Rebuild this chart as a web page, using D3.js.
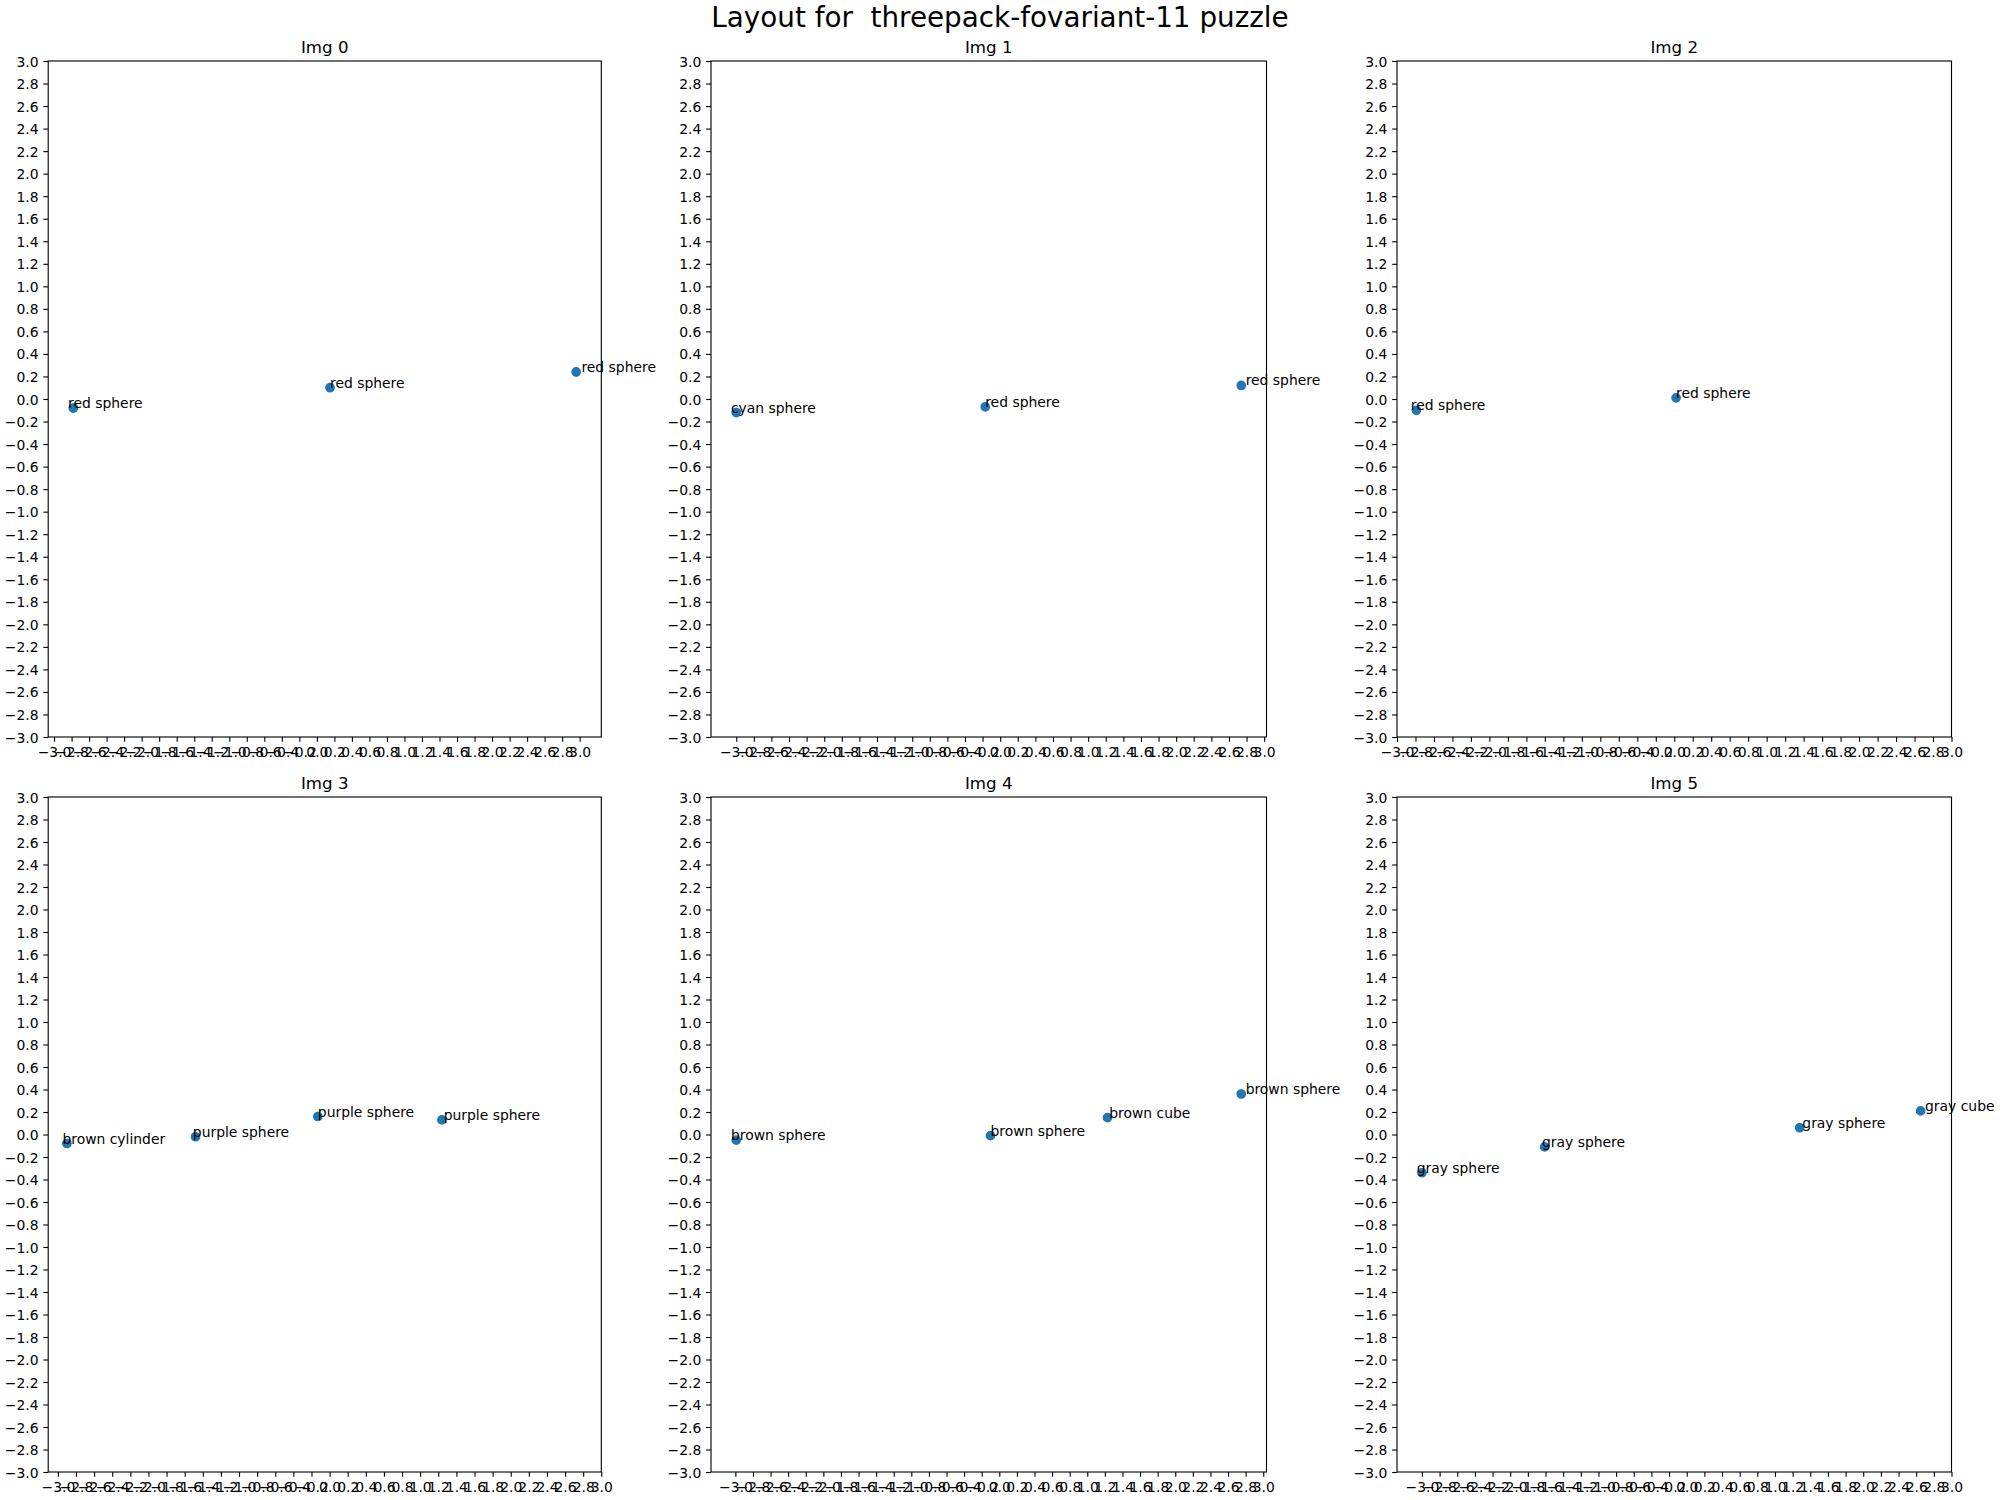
<!DOCTYPE html>
<html>
<head>
<meta charset="utf-8">
<script src="https://cdn.jsdelivr.net/npm/d3@7"></script>
<style>
  body { margin: 0; background: #ffffff; }
  svg { display: block; }
</style>
</head>
<body>
<svg id="chart" width="2000" height="1500"></svg>
<script>
// ---------------- DATA ----------------
const figTitle = "Layout for  threepack-fovariant-11 puzzle";
const panelTitles = ["Img 0", "Img 1", "Img 2", "Img 3", "Img 4", "Img 5"];

const img0Labels = ["red sphere", "red sphere", "red sphere"];
const img0X = [-2.78, 0.15, 2.96];
const img0Y = [-0.08, 0.10, 0.24];
const img0LabelX = [-2.84, 0.15, 3.02];

const img1Labels = ["cyan sphere", "red sphere", "red sphere"];
const img1X = [-3.00, -0.17, 2.74];
const img1Y = [-0.12, -0.07, 0.12];
const img1LabelX = [-3.06, -0.17, 2.79];

const img2Labels = ["red sphere", "red sphere"];
const img2X = [-2.79, 0.02];
const img2Y = [-0.10, 0.01];
const img2LabelX = [-2.85, 0.02];

const img3Labels = ["brown cylinder", "purple sphere", "purple sphere", "purple sphere"];
const img3X = [-2.90, -1.48, -0.13, 1.24];
const img3Y = [-0.08, -0.02, 0.16, 0.13];
const img3LabelX = [-2.95, -1.51, -0.13, 1.26];

const img4Labels = ["brown sphere", "brown sphere", "brown cube", "brown sphere"];
const img4X = [-2.99, -0.10, 1.23, 2.75];
const img4Y = [-0.05, -0.01, 0.15, 0.36];
const img4LabelX = [-3.05, -0.10, 1.25, 2.80];

const img5Labels = ["gray sphere", "gray sphere", "gray sphere", "gray cube"];
const img5X = [-3.00, -1.61, 1.28, 2.65];
const img5Y = [-0.34, -0.11, 0.06, 0.21];
const img5LabelX = [-3.06, -1.64, 1.31, 2.70];

const tickValues = [-3.0, -2.8, -2.6, -2.4, -2.2, -2.0, -1.8, -1.6, -1.4, -1.2, -1.0,
  -0.8, -0.6, -0.4, -0.2, 0.0, 0.2, 0.4, 0.6, 0.8, 1.0, 1.2, 1.4, 1.6, 1.8, 2.0,
  2.2, 2.4, 2.6, 2.8, 3.0];
const yLimits = [-3, 3];
const marginFraction = 0.05;

// ---------------- LAYOUT / STYLE ----------------
const FONT = "'DejaVu Sans', sans-serif";
const colLeft = [48.2, 711.0, 1397.0];
const colRight = [601.3, 1266.5, 1951.5];
const rowTop = [61, 797];
const rowBottom = [737, 1472];
const tickLen = 4.86, tickPad = 4.86, lw = 1.11;
const dotColor = "#1f77b4";

const panels = [
  {title: panelTitles[0], labels: img0Labels, x: img0X, y: img0Y, lx: img0LabelX},
  {title: panelTitles[1], labels: img1Labels, x: img1X, y: img1Y, lx: img1LabelX},
  {title: panelTitles[2], labels: img2Labels, x: img2X, y: img2Y, lx: img2LabelX},
  {title: panelTitles[3], labels: img3Labels, x: img3X, y: img3Y, lx: img3LabelX},
  {title: panelTitles[4], labels: img4Labels, x: img4X, y: img4Y, lx: img4LabelX},
  {title: panelTitles[5], labels: img5Labels, x: img5X, y: img5Y, lx: img5LabelX}
];

const fmt = d => {
  const v = Math.abs(d) < 1e-9 ? 0 : d;
  return (v < 0 ? "\u2212" : "") + Math.abs(v).toFixed(1);
};

const svg = d3.select("#chart");
svg.append("rect").attr("width", 2000).attr("height", 1500).attr("fill", "#ffffff");

svg.append("text")
  .attr("x", 1000).attr("y", 27)
  .attr("text-anchor", "middle")
  .style("white-space", "pre")
  .attr("font-family", FONT).attr("font-size", 27.8)
  .attr("fill", "#000")
  .text(figTitle);

panels.forEach((p, i) => {
  const col = i % 3, row = Math.floor(i / 3);
  const L = colLeft[col], R = colRight[col], T = rowTop[row], B = rowBottom[row];

  // matplotlib-like autoscale: data range with 5% margins, expanded to include ticks
  const xmin = d3.min(p.x), xmax = d3.max(p.x);
  const r = xmax - xmin;
  const lo = Math.min(d3.min(tickValues), xmin - marginFraction * r);
  const hi = Math.max(d3.max(tickValues), xmax + marginFraction * r);

  const x = d3.scaleLinear().domain([lo, hi]).range([L, R]);
  const y = d3.scaleLinear().domain(yLimits).range([B, T]);

  const g = svg.append("g");

  const yAxis = d3.axisLeft(y).tickValues(tickValues).tickFormat(fmt)
    .tickSizeInner(tickLen).tickSizeOuter(0).tickPadding(tickPad);
  const xAxis = d3.axisBottom(x).tickValues(tickValues).tickFormat(fmt)
    .tickSizeInner(tickLen).tickSizeOuter(0).tickPadding(tickPad);

  const gy = g.append("g").attr("transform", `translate(${L},0)`).call(yAxis);
  const gx = g.append("g").attr("transform", `translate(0,${B})`).call(xAxis);
  [gy, gx].forEach(ax => {
    ax.select(".domain").remove();
    ax.attr("font-family", FONT).attr("font-size", 13.9);
    ax.selectAll(".tick line").attr("stroke", "#000").attr("stroke-width", lw);
    ax.selectAll(".tick text").attr("fill", "#000");
  });
  gy.selectAll(".tick text").attr("dy", "0.36em");
  gx.selectAll(".tick text").attr("dy", "0.76em");

  g.append("rect")
    .attr("x", L).attr("y", T).attr("width", R - L).attr("height", B - T)
    .attr("fill", "none").attr("stroke", "#000").attr("stroke-width", lw);

  g.append("text")
    .attr("x", (L + R) / 2).attr("y", T - 8.33)
    .attr("text-anchor", "middle")
    .attr("font-family", FONT).attr("font-size", 16.67)
    .attr("fill", "#000")
    .text(p.title);

  const pts = p.x.map((xv, j) => ({x: xv, y: p.y[j], lx: p.lx[j], label: p.labels[j]}));

  g.selectAll("circle.pt").data(pts).enter().append("circle")
    .attr("class", "pt")
    .attr("cx", d => x(d.x)).attr("cy", d => y(d.y))
    .attr("r", 4.17).attr("fill", dotColor)
    .attr("stroke", dotColor).attr("stroke-width", 1.39);

  g.selectAll("text.lbl").data(pts).enter().append("text")
    .attr("class", "lbl")
    .attr("x", d => x(d.lx)).attr("y", d => y(d.y))
    .attr("font-family", FONT).attr("font-size", 13.9)
    .attr("fill", "#000")
    .text(d => d.label);
});
</script>
</body>
</html>
